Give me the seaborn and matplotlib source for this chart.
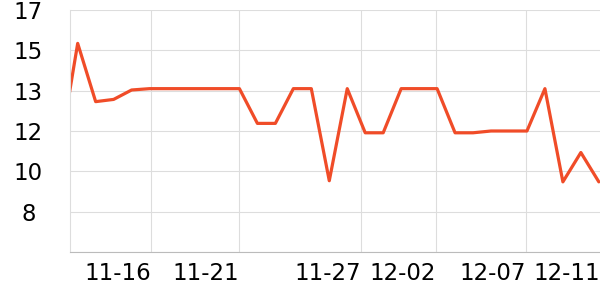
import matplotlib
matplotlib.use("Agg")
import matplotlib.pyplot as plt
import seaborn as sns
import pandas as pd

# ---- data ----
point_index = list(range(-1, 30))
values = [10.7, 15.51, 12.91, 13.01, 13.43, 13.49, 13.49, 13.49, 13.49, 13.49,
          13.49, 11.94, 11.94, 13.49, 13.49, 9.38, 13.49, 11.52, 11.52, 13.49,
          13.49, 13.49, 11.52, 11.52, 11.6, 11.6, 11.6, 13.49, 9.33, 10.64, 9.33]
x_tick_labels = ["11-16", "11-21", "11-27", "12-02", "12-07", "12-11"]
x_tick_pos = [4.08, 8.98, 15.76, 19.94, 24.97, 29.06]
y_tick_pos = [17.0, 15.2, 13.4, 11.6, 9.8, 8.0, 6.2]
y_tick_labels = ["17", "15", "13", "12", "10", "8", ""]

df = pd.DataFrame({"idx": point_index, "value": values})

sns.set_theme(style="white")
plt.rcParams["font.family"] = ["DejaVu Sans"]

fig = plt.figure(figsize=(6, 3), dpi=100)
ax = fig.add_axes([70/600, 1 - 252/300, 530/600, 242/300])

sns.lineplot(data=df, x="idx", y="value", ax=ax, color="#f04c28",
             linewidth=2.3, estimator=None, sort=False)

ax.set_xlim(-0.428, 29.065)
ax.set_ylim(6.2, 17.0)

ax.set_xticks(x_tick_pos)
ax.set_xticklabels(x_tick_labels, ha="right")
ax.set_yticks(y_tick_pos)
ax.set_yticklabels(y_tick_labels, ha="center")

ax.grid(True, color="#dddddd", linewidth=0.8)
xgl = ax.get_xgridlines()
xgl[-1].set_visible(False)

ax.tick_params(axis="x", length=3, width=0.8, color="#bbbbbb", pad=4,
               labelsize=16.5, labelcolor="black", direction="out")
ax.tick_params(axis="y", length=2, width=0.8, color="#dddddd", pad=28,
               labelsize=16.5, labelcolor="black", direction="out")
ax.xaxis.get_major_ticks()[-1].tick1line.set_visible(False)

for s in ["top", "right"]:
    ax.spines[s].set_visible(False)
ax.spines["left"].set_color("#dddddd")
ax.spines["left"].set_linewidth(0.8)
ax.spines["bottom"].set_color("#bbbbbb")
ax.spines["bottom"].set_linewidth(0.8)
ax.set_xlabel("")
ax.set_ylabel("")
ax.set_facecolor("white")
fig.patch.set_facecolor("white")

fig.savefig("out.png", dpi=100)
